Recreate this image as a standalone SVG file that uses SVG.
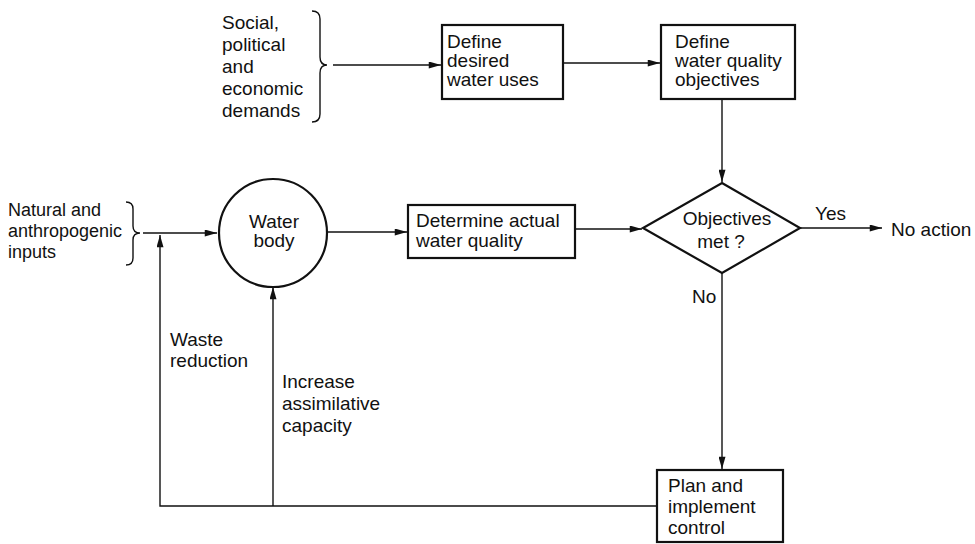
<svg xmlns="http://www.w3.org/2000/svg" width="975" height="544" viewBox="0 0 975 544">
<style>
text{font-family:"Liberation Sans",Arial,sans-serif;font-size:19px;fill:#111}
.sm{font-size:18px}
.box{fill:#fff;stroke:#111;stroke-width:2.2}
.ln{fill:none;stroke:#111;stroke-width:1.4}
.br{fill:none;stroke:#111;stroke-width:1.4}
.c{text-anchor:middle}
</style>
<defs>
<marker id="ah" viewBox="0 0 14 8" refX="14" refY="4" markerWidth="14" markerHeight="7" markerUnits="userSpaceOnUse" orient="auto">
<path d="M0,0 L14,4 L0,8 Z" fill="#111"/>
</marker>
</defs>
<g id="connectors">
<line class="ln" x1="333" y1="65" x2="441" y2="65" marker-end="url(#ah)"/>
<line class="ln" x1="563" y1="63" x2="660" y2="63" marker-end="url(#ah)"/>
<line class="ln" x1="722" y1="99" x2="722" y2="182" marker-end="url(#ah)"/>
<line class="ln" x1="143" y1="233" x2="217" y2="233" marker-end="url(#ah)"/>
<line class="ln" x1="327" y1="232" x2="407" y2="232" marker-end="url(#ah)"/>
<line class="ln" x1="575" y1="229" x2="642" y2="229" marker-end="url(#ah)"/>
<line class="ln" x1="800" y1="228" x2="882" y2="228" marker-end="url(#ah)"/>
<line class="ln" x1="722" y1="273" x2="722" y2="469" marker-end="url(#ah)"/>
<polyline class="ln" points="657,506 160,506 160,235" marker-end="url(#ah)"/>
<line class="ln" x1="273" y1="506" x2="273" y2="287" marker-end="url(#ah)"/>
</g>
<g id="social">
<path class="br" d="M312,11 Q320,11 320,19 L320,57 Q320,65 327,65 Q320,65 320,73 L320,114 Q320,122 312,122"/>
<text x="222" y="29">Social,</text>
<text x="222" y="51">political</text>
<text x="222" y="73">and</text>
<text x="222" y="95">economic</text>
<text x="222" y="117">demands</text>
</g>
<g id="desired">
<rect class="box" x="442" y="25" width="121" height="74"/>
<text x="447" y="48">Define</text>
<text x="447" y="67">desired</text>
<text x="447" y="86">water uses</text>
</g>
<g id="objectives">
<rect class="box" x="661" y="25" width="134" height="74"/>
<text x="675" y="48">Define</text>
<text x="675" y="67">water quality</text>
<text x="675" y="86">objectives</text>
</g>
<g id="natural">
<path class="br" d="M126,202 Q133,202 133,209 L133,226 Q133,233 140,233 Q133,233 133,240 L133,258 Q133,265 126,265"/>
<text class="sm" x="8" y="216">Natural and</text>
<text class="sm" x="8" y="237">anthropogenic</text>
<text class="sm" x="8" y="258">inputs</text>
</g>
<g id="waterbody">
<circle class="box" cx="273" cy="233" r="54"/>
<text class="c" x="274" y="228">Water</text>
<text class="c" x="274" y="247">body</text>
</g>
<g id="determine">
<rect class="box" x="408" y="205" width="167" height="53"/>
<text x="416" y="227">Determine actual</text>
<text x="416" y="247">water quality</text>
</g>
<g id="decision">
<polygon class="box" points="722,183 800,228 722,273 643,228"/>
<text class="c" x="727" y="225">Objectives</text>
<text class="c" x="721" y="248">met ?</text>
</g>
<g id="noaction">
<text x="815" y="220">Yes</text>
<text x="891" y="236">No action</text>
</g>
<g id="labels">
<text x="692" y="303">No</text>
<text x="170" y="346">Waste</text>
<text x="170" y="367">reduction</text>
<text x="282" y="388">Increase</text>
<text x="282" y="410">assimilative</text>
<text x="282" y="432">capacity</text>
</g>
<g id="plan">
<rect class="box" x="657" y="470" width="126" height="72"/>
<text x="668" y="492">Plan and</text>
<text x="668" y="513">implement</text>
<text x="668" y="534">control</text>
</g>
</svg>
